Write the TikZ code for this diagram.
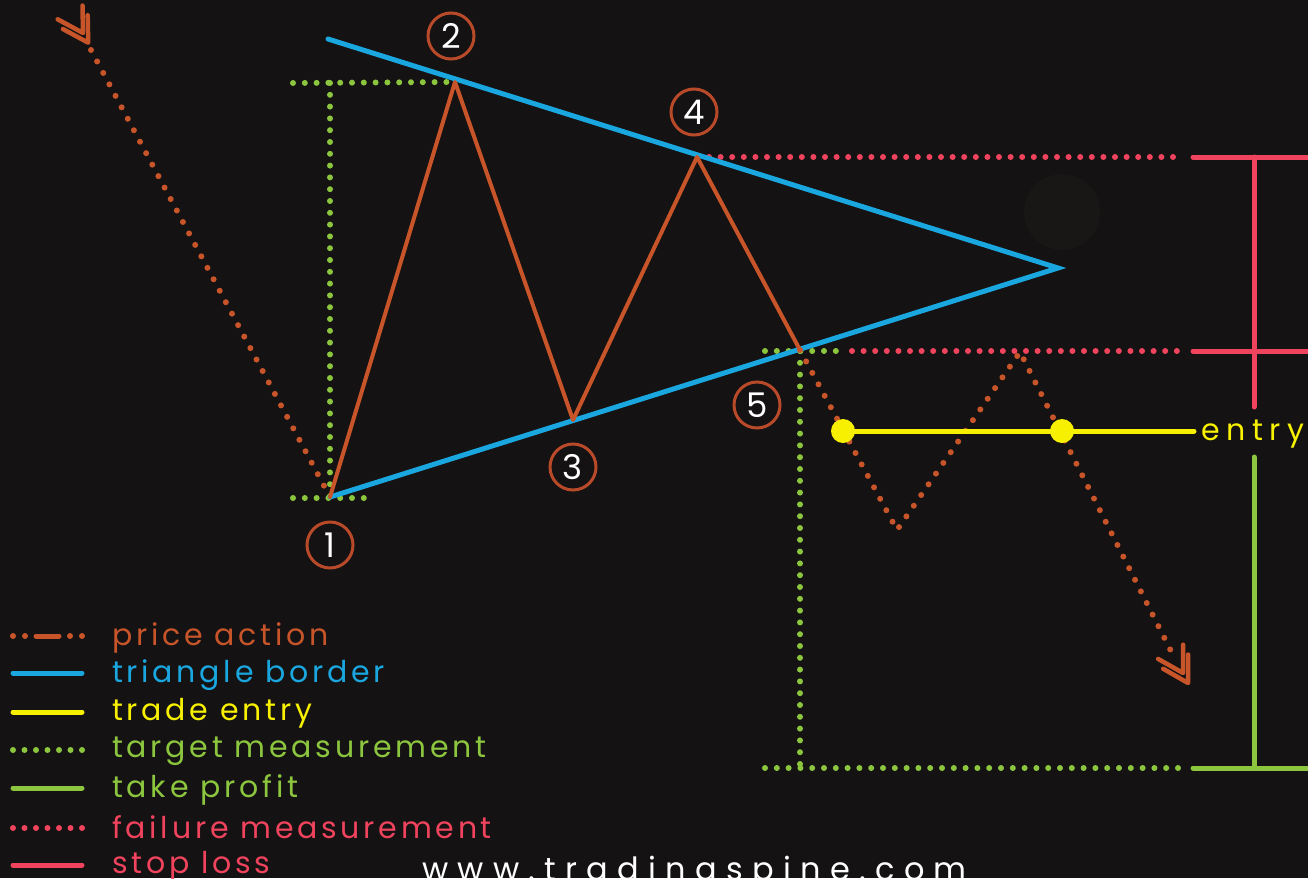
\documentclass[tikz,border=0pt]{standalone}
\usepackage{fontspec}
\setmainfont{Poppins}
\newfontfamily\lgfont[LetterSpace=12.5]{Poppins}
\newfontfamily\webfont[LetterSpace=29]{Poppins}
\newfontfamily\entfont[LetterSpace=22]{Poppins}
\newfontfamily\numfont{Poppins}
\usetikzlibrary{calc}
\definecolor{bgc}{HTML}{141212}
\definecolor{pac}{HTML}{C8552A}
\definecolor{circc}{HTML}{B84A2A}
\definecolor{blc}{HTML}{1AA7DF}
\definecolor{ylc}{HTML}{F7F000}
\definecolor{grc}{HTML}{8CC63F}
\definecolor{rdc}{HTML}{F0435D}
\definecolor{wmc}{HTML}{191716}
\tikzset{
  pasolid/.style={draw=pac, line width=4pt, line cap=round, line join=round},
  padot/.style={draw=pac, line width=6pt, line cap=round, line join=round, dash pattern=on 0pt off 13pt},
  chev/.style={draw=pac, line width=4.5pt, line cap=round, line join=round},
  bline/.style={draw=blc, line width=5pt, line cap=round},
  yline/.style={draw=ylc, line width=5pt, line cap=round},
  gdot/.style={draw=grc, line width=6pt, line cap=round, dash pattern=on 0pt off 11.8pt},
  gsolid/.style={draw=grc, line width=5pt, line cap=round},
  rdot/.style={draw=rdc, line width=6pt, line cap=round, dash pattern=on 0pt off 11.6pt},
  rsolid/.style={draw=rdc, line width=5pt, line cap=round},
  numc/.style={circle, draw=circc, line width=3pt, minimum size=46pt, inner sep=0pt, text=white, font=\numfont\fontsize{34}{34}\selectfont},
  lgtext/.style={anchor=base west, inner sep=0pt, font=\lgfont\fontsize{30}{34}\selectfont},
  ydot/.style={circle, fill=ylc, minimum size=24pt, inner sep=0pt},
}
\begin{document}
\begin{tikzpicture}[x=1pt,y=-1pt]
\fill[bgc] (0,0) rectangle (1308,878);
\useasboundingbox (0,0) rectangle (1308,878);
% faint watermark
\fill[wmc] (1062,212) circle (38);

% key points
\coordinate (p1) at (330,497);
\coordinate (p2) at (455,82);
\coordinate (p3) at (573,420);
\coordinate (p4) at (697,157);
\coordinate (p5) at (800,350);
\coordinate (tl) at (328,39);
\coordinate (apex) at (1058,268);
\coordinate (s0) at (91,50);
\coordinate (b1) at (897,530);
\coordinate (b2) at (1020,352);
\coordinate (b3) at (1173,655);

% target measurement (green dotted)
\coordinate (g1) at (293,83);
\coordinate (g2) at (293,498);
\coordinate (g3) at (368,498);
\coordinate (g4) at (765,351);
\coordinate (g5) at (840,351);
\coordinate (g6) at (800,768);
\coordinate (g7) at (765,768);
\coordinate (g8) at (1182,768);
\draw[gdot] (g1) -- (p2);
\draw[gdot] (p1 |- g1) -- (p1);
\draw[gdot] (g2) -- (g3);
\draw[gdot] (g4) -- (g5);
\draw[gdot] (p5 |- g4) -- (g6);
\draw[gdot] (g7) -- (g8);

% failure measurement (red dotted)
\coordinate (r1) at (709,157);
\coordinate (r2) at (1182,157);
\coordinate (r3) at (852,351);
\coordinate (r4) at (1182,351);
\draw[rdot] (r1) -- (r2);
\draw[rdot] (r3) -- (r4);

% stop loss
\coordinate (sl1) at (1193,157);
\coordinate (sl2) at (1308,157);
\coordinate (sl3) at (1193,351);
\coordinate (sl4) at (1308,351);
\coordinate (sl5) at (1254,157);
\coordinate (sl6) at (1254,407);
\draw[rsolid] (sl1) -- ([xshift=10pt]sl2);
\draw[rsolid] (sl3) -- ([xshift=10pt]sl4);
\draw[rsolid] (sl5) -- (sl6);

% take profit
\coordinate (tp1) at (1193,768);
\coordinate (tp2) at (1308,768);
\coordinate (tp3) at (1254,457);
\coordinate (tp4) at (1254,768);
\draw[gsolid] (tp1) -- ([xshift=10pt]tp2);
\draw[gsolid] (tp3) -- (tp4);

% triangle border
\draw[bline] (tl) -- (apex) -- (p1);

% price action
\draw[padot] (s0) -- (p1);
\draw[pasolid] (p1) -- (p2) -- (p3) -- (p4) -- (p5);
\draw[padot] (p5) -- (b1) -- (b2) -- (b3);

% chevrons top-left
\draw[chev] (57.7,19.3) -- (83,33) -- (82.5,5.5);
\draw[chev] (62.9,29.0) -- (88.2,42.7) -- (87.7,15.2);
% chevrons bottom
\draw[chev] (1158.1,658.9) -- (1183,673) -- (1183.1,644.7);
\draw[chev] (1163.1,668.7) -- (1188,683) -- (1188.1,654.5);

% trade entry
\node[ydot] (e1) at (843,431) {};
\node[ydot] (e2) at (1062,431) {};
\coordinate (e3) at (1194,431);
\draw[yline] (e1.center) -- (e3);
\node[anchor=base west, inner sep=0pt, text=ylc, font=\entfont\fontsize{30}{34}\selectfont] (entry) at (1201,440) {entry};

% numbered circles
\node[numc] (n1) at (330,545) {1};
\node[numc] (n2) at (451,36) {2};
\node[numc] (n3) at (573,467) {3};
\node[numc] (n4) at (694,112) {4};
\node[numc] (n5) at (757,405) {5};

% legend
\fill[pac] (13,636) circle (3) (25,636) circle (3) (70,636) circle (3) (82,636) circle (3);
\draw[pasolid, line width=5pt] (36,636) -- (59,636);
\node[lgtext, text=pac] (lg1) at (112,645) {price action};
\draw[bline] (13,673) -- (82,673);
\node[lgtext, text=blc] (lg2) at (112,682) {triangle border};
\draw[yline] (13,712) -- (82,712);
\node[lgtext, text=ylc] (lg3) at (112,720) {trade entry};
\draw[gdot, dash pattern=on 0pt off 11.5pt] (13,750) -- (82,750);
\node[lgtext, text=grc] (lg4) at (112,757) {target measurement};
\draw[gsolid] (13,788) -- (82,788);
\node[lgtext, text=grc] (lg5) at (112,797) {take profit};
\draw[rdot, dash pattern=on 0pt off 11.5pt] (13,828) -- (82,828);
\node[lgtext, text=rdc] (lg6) at (112,838) {failure measurement};
\draw[rsolid] (13,865) -- (82,865);
\node[lgtext, text=rdc] (lg7) at (112,873) {stop loss};

% website
\node[anchor=base west, inner sep=0pt, text=white, font=\webfont\fontsize{32}{36}\selectfont] (web) at (422,880) {www.tradingspine.com};
\end{tikzpicture}
\end{document}
